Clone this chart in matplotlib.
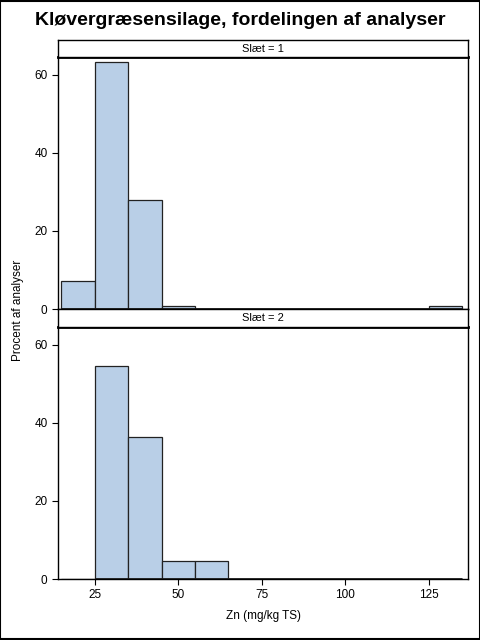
import matplotlib
matplotlib.use("Agg")
import matplotlib.pyplot as plt
import matplotlib.patches as pat
import numpy as np

plt.rcParams['font.family'] = ['Liberation Sans', 'DejaVu Sans']

# bin edges (mg/kg TS) and percent per bin
bin_edges = [15, 25, 35, 45, 55, 65, 75, 85, 95, 105, 115, 125, 135]
pct_slaet1 = [7.2, 63.3, 28.0, 0.7, 0, 0, 0, 0, 0, 0, 0, 0.7]
pct_slaet2 = [0, 54.5, 36.4, 4.5, 4.5, 0, 0, 0, 0, 0, 0, 0]
panel_labels = ["Slæt = 1", "Slæt = 2"]
x_ticks = [25, 50, 75, 100, 125]
y_ticks = [0, 20, 40, 60]

bar_color = "#B9CFE7"

fig = plt.figure(figsize=(4.8, 6.4), dpi=100)
fig.patches.append(pat.Rectangle((0.001, 0.001), 0.998, 0.998, transform=fig.transFigure,
                                 fill=False, edgecolor="black", linewidth=1.5))

fig.text(0.5, 0.968, "Kløvergræsensilage, fordelingen af analyser",
         ha="center", va="center", fontsize=14, fontweight="bold")

left = 58 / 480
width = 410 / 480
panels = [(57, 309, 40), (327, 579, 309)]
data = [pct_slaet1, pct_slaet2]

edges = np.array(bin_edges)
widths = np.diff(edges)

for i, (top, bottom, htop) in enumerate(panels):
    ax = fig.add_axes([left, 1 - bottom / 640, width, (bottom - top) / 640])
    ax.bar(edges[:-1], data[i], width=widths, align="edge", color=bar_color,
           edgecolor="#222222", linewidth=0.9)
    # zero-height bins still draw their outline on the baseline
    ax.hlines(0, edges[0] if i == 0 else edges[1], edges[-1], color="#222222", linewidth=2.0)
    ax.set_xlim(14, 136.7)
    ax.set_ylim(0, 64.6)
    ax.set_yticks(y_ticks)
    ax.tick_params(axis="y", labelsize=8.5, length=4, width=0.8, direction="out")
    if i == 1:
        ax.set_xticks(x_ticks)
        ax.tick_params(axis="x", labelsize=8.5, length=4, width=0.8, direction="out")
        ax.set_xlabel("Zn (mg/kg TS)", fontsize=8.5, labelpad=6)
    else:
        ax.set_xticks([])
    for s in ax.spines.values():
        s.set_linewidth(1.0)
    ax.spines["top"].set_linewidth(2.0)

    # header strip
    hax = fig.add_axes([left, 1 - top / 640, width, (top - htop) / 640])
    hax.set_xticks([])
    hax.set_yticks([])
    for s in hax.spines.values():
        s.set_linewidth(1.0)
    hax.text(0.5, 0.5, panel_labels[i], ha="center", va="center", fontsize=8,
             transform=hax.transAxes)

fig.text(0.037, 1 - 310 / 640, "Procent af analyser", rotation=90,
         ha="center", va="center", fontsize=8.5)

fig.savefig("out.png", dpi=100)
